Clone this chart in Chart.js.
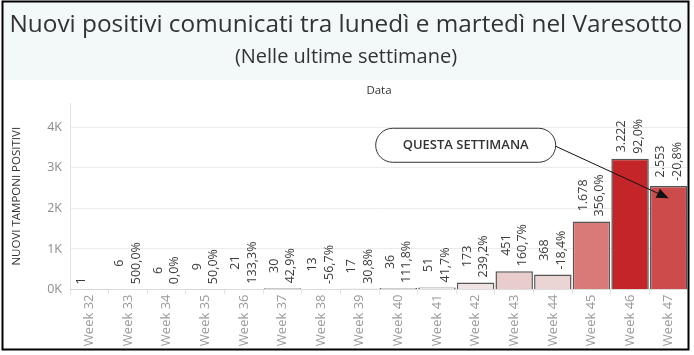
<!DOCTYPE html>
<html>
<head>
<meta charset="utf-8">
<script src="https://cdn.jsdelivr.net/npm/chart.js@4.4.1/dist/chart.umd.min.js"></script>
<style>
  html, body { margin: 0; padding: 0; background: #fff; }
  #wrap { width: 694px; height: 355px; position: relative; }
</style>
</head>
<body>
<div id="wrap"><canvas id="c" width="694" height="355"></canvas></div>
<script>
// ---- data ----
const categories = ['Week 32','Week 33','Week 34','Week 35','Week 36','Week 37','Week 38','Week 39',
                    'Week 40','Week 41','Week 42','Week 43','Week 44','Week 45','Week 46','Week 47'];
const positives = [1, 6, 6, 9, 21, 30, 13, 17, 36, 51, 173, 451, 368, 1678, 3222, 2553];
const pctChange = [null, 500.0, 0.0, 50.0, 133.3, 42.9, -56.7, 30.8, 111.8, 41.7, 239.2, 160.7, -18.4, 356.0, 92.0, -20.8];
const yTicks = [0, 1000, 2000, 3000, 4000];
const yTickLabels = ['0K', '1K', '2K', '3K', '4K'];
const titleText = 'Nuovi positivi comunicati tra lunedì e martedì nel Varesotto';
const subtitleText = '(Nelle ultime settimane)';
const columnHeader = 'Data';
const yAxisTitle = 'NUOVI TAMPONI POSITIVI';
const calloutText = 'QUESTA SETTIMANA';
const calloutCategory = 'Week 47';
const calloutValue = 2250;

// ---- styles (kept apart from the data) ----
const barColors = ['#f8f4f4','#f8f4f4','#f8f4f4','#f8f4f4','#f7f2f2','#f7f2f2','#f7f2f2','#f7f2f2',
                   '#f6f0f0','#f5eeee','#efe3e3','#e9cdcd','#ebd4d4','#d97a79','#c42528','#cd4b4b'];

function fmtInt(v) { return String(v).replace(/\B(?=(\d{3})+(?!\d))/g, '.'); }
function fmtPct(p) { return p === null ? '' : p.toFixed(1).replace('.', ',') + '%'; }

const FONT = '"Open Sans", "DejaVu Sans", sans-serif';

const frame = {
  id: 'frame',
  beforeDraw(chart) {
    const ctx = chart.ctx;
    ctx.save();
    ctx.fillStyle = '#ffffff';
    ctx.fillRect(0, 0, chart.width, chart.height);
    ctx.fillStyle = '#f3f8f8';
    ctx.fillRect(3, 2, 685, 78);
    ctx.fillStyle = '#333333';
    ctx.textAlign = 'center';
    ctx.textBaseline = 'middle';
    function fitText(txt, size, cx, cy, maxW) {
      ctx.font = size + 'px ' + FONT;
      const w = ctx.measureText(txt).width;
      const s = w > maxW ? maxW / w : 1;
      ctx.save();
      ctx.translate(cx, cy);
      ctx.scale(s, 1);
      ctx.fillText(txt, 0, 0);
      ctx.restore();
    }
    fitText(titleText, 24.5, 346, 25, 673);
    fitText(subtitleText, 20, 346, 57, 230);
    ctx.font = '11.5px ' + FONT;
    const ca = chart.chartArea;
    ctx.fillText(columnHeader, (ca.left + ca.right) / 2, 91);
    ctx.restore();
  },
  afterDraw(chart) {
    const ctx = chart.ctx;
    ctx.save();
    ctx.strokeStyle = '#000';
    ctx.lineWidth = 2;
    ctx.strokeRect(2.5, 1.5, 686, 348);
    ctx.restore();
  }
};

const barLabels = {
  id: 'barLabels',
  afterDatasetsDraw(chart) {
    const ctx = chart.ctx;
    const meta = chart.getDatasetMeta(0);
    ctx.save();
    ctx.font = '12.5px ' + FONT;
    ctx.fillStyle = '#3c3c3c';
    ctx.textAlign = 'center';
    ctx.textBaseline = 'middle';
    meta.data.forEach((bar, i) => {
      const lines = [fmtInt(positives[i]), fmtPct(pctChange[i])];
      const boxW = Math.max(...lines.map(l => ctx.measureText(l).width));
      const bottom = bar.y - 5;
      ctx.save();
      ctx.translate(bar.x, bottom);
      ctx.rotate(-Math.PI / 2);
      lines.forEach((l, k) => {
        if (!l) return;
        const dx = (k - 0.5) * 16.5;
        ctx.fillText(l, boxW / 2, dx);
      });
      ctx.restore();
    });
    ctx.restore();
  }
};

const callout = {
  id: 'callout',
  afterDatasetsDraw(chart) {
    const ctx = chart.ctx;
    const xs = chart.scales.x, ys = chart.scales.y;
    const tipX = xs.getPixelForValue(categories.indexOf(calloutCategory));
    const tipY = ys.getPixelForValue(calloutValue);
    const bx1 = tipX - 293, bx2 = tipX - 113, by1 = tipY - 70, by2 = tipY - 36;
    const r = 17;
    ctx.save();
    ctx.beginPath();
    ctx.moveTo(bx1 + r, by1);
    ctx.lineTo(bx2 - r, by1);
    ctx.arcTo(bx2, by1, bx2, by1 + r, r);
    ctx.arcTo(bx2, by2, bx2 - r, by2, r);
    ctx.lineTo(bx1 + r, by2);
    ctx.arcTo(bx1, by2, bx1, by2 - r, r);
    ctx.arcTo(bx1, by1, bx1 + r, by1, r);
    ctx.closePath();
    ctx.fillStyle = '#ffffff';
    ctx.fill();
    ctx.strokeStyle = '#333';
    ctx.lineWidth = 1;
    ctx.stroke();
    ctx.fillStyle = '#333';
    ctx.font = '600 13px ' + FONT;
    ctx.textAlign = 'center';
    ctx.textBaseline = 'middle';
    ctx.fillText(calloutText, (bx1 + bx2) / 2, (by1 + by2) / 2 + 0.5);
    const sx = bx2, sy = (by1 + by2) / 2 + 1;
    const ang = Math.atan2(tipY - sy, tipX - sx);
    const hl = 12, hw = 5;
    const baseX = tipX - hl * Math.cos(ang), baseY = tipY - hl * Math.sin(ang);
    ctx.strokeStyle = '#111';
    ctx.beginPath();
    ctx.moveTo(sx, sy);
    ctx.lineTo(baseX, baseY);
    ctx.stroke();
    ctx.fillStyle = '#111';
    ctx.beginPath();
    ctx.moveTo(tipX, tipY);
    ctx.lineTo(baseX + hw * Math.sin(ang), baseY - hw * Math.cos(ang));
    ctx.lineTo(baseX - hw * Math.sin(ang), baseY + hw * Math.cos(ang));
    ctx.closePath();
    ctx.fill();
    ctx.restore();
  }
};

new Chart(document.getElementById('c'), {
  type: 'bar',
  data: {
    labels: categories,
    datasets: [{
      data: positives,
      backgroundColor: barColors,
      borderColor: '#555555',
      borderWidth: 1.5,
      barPercentage: 0.97,
      categoryPercentage: 1.0
    }]
  },
  options: {
    responsive: false,
    animation: false,
    devicePixelRatio: 1,
    layout: { padding: { top: 103, right: 6, left: 0, bottom: 0 } },
    plugins: { legend: { display: false }, tooltip: { enabled: false }, title: { display: false } },
    scales: {
      x: {
        grid: { display: true, drawOnChartArea: false, drawTicks: true, tickLength: 5, color: '#e4e4e4', offset: true },
        border: { display: true, color: '#dcdcdc' },
        ticks: { color: '#9a9a9a', font: { family: FONT, size: 13 }, minRotation: 90, maxRotation: 90, padding: 0, autoSkip: false },
        afterFit(scale) { scale.height = 355 - 289.5; }
      },
      y: {
        min: 0,
        max: 4600,
        afterBuildTicks(scale) { scale.ticks = yTicks.map(v => ({ value: v })); },
        grid: { color: '#ececec', drawTicks: false },
        border: { display: true, color: '#e2e2e2' },
        ticks: {
          color: '#8c8c8c',
          font: { family: FONT, size: 12.5 },
          padding: 8,
          callback: (v) => yTickLabels[yTicks.indexOf(v)] ?? ''
        },
        title: { display: true, text: yAxisTitle, color: '#333', font: { family: FONT, size: 11.5 }, padding: { top: 10, bottom: 0 } },
        afterFit(scale) { scale.width = 70; }
      }
    }
  },
  plugins: [frame, barLabels, callout]
});
</script>
</body>
</html>
